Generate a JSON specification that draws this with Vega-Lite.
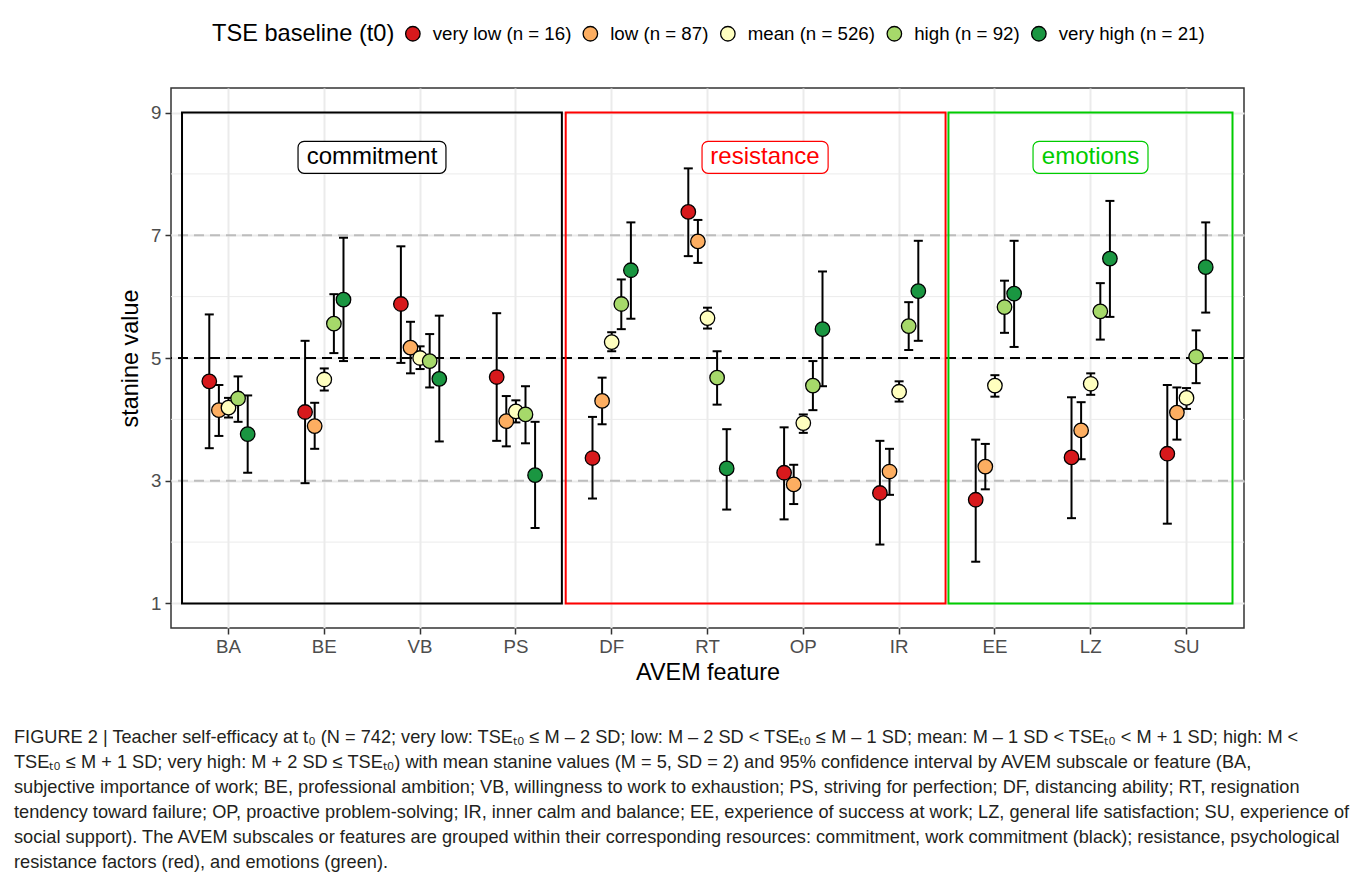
{
  "$schema": "https://vega.github.io/schema/vega-lite/v6.json",
  "width": 1073,
  "height": 540,
  "autosize": {"type": "none"},
  "padding": {"left": 171, "top": 88, "right": 113, "bottom": 249},
  "background": "white",
  "config": {
    "font": "Liberation Sans",
    "view": {"stroke": "#333333", "strokeWidth": 1.5}
  },
  "title": {
    "text": [
      "FIGURE 2 | Teacher self-efficacy at t₀ (N = 742; very low: TSEₜ₀ ≤ M – 2 SD; low: M – 2 SD < TSEₜ₀ ≤ M – 1 SD; mean: M – 1 SD < TSEₜ₀ < M + 1 SD; high: M <",
      "TSEₜ₀ ≤ M + 1 SD; very high: M + 2 SD ≤ TSEₜ₀) with mean stanine values (M = 5, SD = 2) and 95% confidence interval by AVEM subscale or feature (BA,",
      "subjective importance of work; BE, professional ambition; VB, willingness to work to exhaustion; PS, striving for perfection; DF, distancing ability; RT, resignation",
      "tendency toward failure; OP, proactive problem-solving; IR, inner calm and balance; EE, experience of success at work; LZ, general life satisfaction; SU, experience of",
      "social support). The AVEM subscales or features are grouped within their corresponding resources: commitment, work commitment (black); resistance, psychological",
      "resistance factors (red), and emotions (green)."
    ],
    "orient": "bottom",
    "anchor": "start",
    "frame": "group",
    "dx": -157,
    "offset": 45,
    "font": "Liberation Sans",
    "fontSize": 18.2,
    "fontWeight": "normal",
    "color": "#231f20",
    "lineHeight": 25,
    "limit": 0
  },
  "datasets": {
    "stats": [
      {"feature": "BA", "group": "very low (n = 16)", "mean": 4.62, "lower": 3.53, "upper": 5.71},
      {"feature": "BA", "group": "low (n = 87)", "mean": 4.15, "lower": 3.73, "upper": 4.56},
      {"feature": "BA", "group": "mean (n = 526)", "mean": 4.19, "lower": 4.03, "upper": 4.35},
      {"feature": "BA", "group": "high (n = 92)", "mean": 4.34, "lower": 3.96, "upper": 4.70},
      {"feature": "BA", "group": "very high (n = 21)", "mean": 3.76, "lower": 3.13, "upper": 4.39},
      {"feature": "BE", "group": "very low (n = 16)", "mean": 4.12, "lower": 2.96, "upper": 5.28},
      {"feature": "BE", "group": "low (n = 87)", "mean": 3.89, "lower": 3.52, "upper": 4.27},
      {"feature": "BE", "group": "mean (n = 526)", "mean": 4.65, "lower": 4.47, "upper": 4.83},
      {"feature": "BE", "group": "high (n = 92)", "mean": 5.56, "lower": 5.08, "upper": 6.04},
      {"feature": "BE", "group": "very high (n = 21)", "mean": 5.95, "lower": 4.95, "upper": 6.96},
      {"feature": "VB", "group": "very low (n = 16)", "mean": 5.88, "lower": 4.92, "upper": 6.82},
      {"feature": "VB", "group": "low (n = 87)", "mean": 5.17, "lower": 4.75, "upper": 5.59},
      {"feature": "VB", "group": "mean (n = 526)", "mean": 5.00, "lower": 4.82, "upper": 5.19},
      {"feature": "VB", "group": "high (n = 92)", "mean": 4.95, "lower": 4.52, "upper": 5.39},
      {"feature": "VB", "group": "very high (n = 21)", "mean": 4.66, "lower": 3.64, "upper": 5.69},
      {"feature": "PS", "group": "very low (n = 16)", "mean": 4.69, "lower": 3.65, "upper": 5.73},
      {"feature": "PS", "group": "low (n = 87)", "mean": 3.97, "lower": 3.56, "upper": 4.38},
      {"feature": "PS", "group": "mean (n = 526)", "mean": 4.13, "lower": 3.95, "upper": 4.31},
      {"feature": "PS", "group": "high (n = 92)", "mean": 4.08, "lower": 3.61, "upper": 4.54},
      {"feature": "PS", "group": "very high (n = 21)", "mean": 3.09, "lower": 2.23, "upper": 3.96},
      {"feature": "DF", "group": "very low (n = 16)", "mean": 3.37, "lower": 2.71, "upper": 4.04},
      {"feature": "DF", "group": "low (n = 87)", "mean": 4.30, "lower": 3.92, "upper": 4.68},
      {"feature": "DF", "group": "mean (n = 526)", "mean": 5.26, "lower": 5.11, "upper": 5.42},
      {"feature": "DF", "group": "high (n = 92)", "mean": 5.88, "lower": 5.47, "upper": 6.28},
      {"feature": "DF", "group": "very high (n = 21)", "mean": 6.43, "lower": 5.64, "upper": 7.21},
      {"feature": "RT", "group": "very low (n = 16)", "mean": 7.38, "lower": 6.66, "upper": 8.09},
      {"feature": "RT", "group": "low (n = 87)", "mean": 6.90, "lower": 6.55, "upper": 7.25},
      {"feature": "RT", "group": "mean (n = 526)", "mean": 5.65, "lower": 5.48, "upper": 5.82},
      {"feature": "RT", "group": "high (n = 92)", "mean": 4.68, "lower": 4.24, "upper": 5.11},
      {"feature": "RT", "group": "very high (n = 21)", "mean": 3.20, "lower": 2.53, "upper": 3.84},
      {"feature": "OP", "group": "very low (n = 16)", "mean": 3.13, "lower": 2.37, "upper": 3.87},
      {"feature": "OP", "group": "low (n = 87)", "mean": 2.94, "lower": 2.62, "upper": 3.26},
      {"feature": "OP", "group": "mean (n = 526)", "mean": 3.94, "lower": 3.78, "upper": 4.08},
      {"feature": "OP", "group": "high (n = 92)", "mean": 4.55, "lower": 4.15, "upper": 4.95},
      {"feature": "OP", "group": "very high (n = 21)", "mean": 5.47, "lower": 4.54, "upper": 6.41},
      {"feature": "IR", "group": "very low (n = 16)", "mean": 2.80, "lower": 1.96, "upper": 3.65},
      {"feature": "IR", "group": "low (n = 87)", "mean": 3.15, "lower": 2.77, "upper": 3.52},
      {"feature": "IR", "group": "mean (n = 526)", "mean": 4.45, "lower": 4.29, "upper": 4.62},
      {"feature": "IR", "group": "high (n = 92)", "mean": 5.52, "lower": 5.13, "upper": 5.91},
      {"feature": "IR", "group": "very high (n = 21)", "mean": 6.09, "lower": 5.28, "upper": 6.91},
      {"feature": "EE", "group": "very low (n = 16)", "mean": 2.69, "lower": 1.68, "upper": 3.67},
      {"feature": "EE", "group": "low (n = 87)", "mean": 3.23, "lower": 2.86, "upper": 3.60},
      {"feature": "EE", "group": "mean (n = 526)", "mean": 4.55, "lower": 4.37, "upper": 4.72},
      {"feature": "EE", "group": "high (n = 92)", "mean": 5.83, "lower": 5.41, "upper": 6.26},
      {"feature": "EE", "group": "very high (n = 21)", "mean": 6.05, "lower": 5.18, "upper": 6.91},
      {"feature": "LZ", "group": "very low (n = 16)", "mean": 3.38, "lower": 2.39, "upper": 4.36},
      {"feature": "LZ", "group": "low (n = 87)", "mean": 3.82, "lower": 3.35, "upper": 4.28},
      {"feature": "LZ", "group": "mean (n = 526)", "mean": 4.58, "lower": 4.40, "upper": 4.75},
      {"feature": "LZ", "group": "high (n = 92)", "mean": 5.76, "lower": 5.30, "upper": 6.22},
      {"feature": "LZ", "group": "very high (n = 21)", "mean": 6.62, "lower": 5.67, "upper": 7.56},
      {"feature": "SU", "group": "very low (n = 16)", "mean": 3.44, "lower": 2.30, "upper": 4.56},
      {"feature": "SU", "group": "low (n = 87)", "mean": 4.11, "lower": 3.67, "upper": 4.52},
      {"feature": "SU", "group": "mean (n = 526)", "mean": 4.35, "lower": 4.17, "upper": 4.51},
      {"feature": "SU", "group": "high (n = 92)", "mean": 5.02, "lower": 4.59, "upper": 5.45},
      {"feature": "SU", "group": "very high (n = 21)", "mean": 6.48, "lower": 5.74, "upper": 7.21}
    ],
    "boxes": [
      {"resource": "commitment", "xmin": 0.515, "xmax": 4.48, "ymin": 1, "ymax": 9},
      {"resource": "resistance", "xmin": 4.52, "xmax": 8.485, "ymin": 1, "ymax": 9},
      {"resource": "emotions", "xmin": 8.515, "xmax": 11.48, "ymin": 1, "ymax": 9}
    ],
    "labels": [
      {"resource": "commitment", "xmin": 1.726, "xmax": 3.27, "ymin": 8.01, "ymax": 8.53, "xc": 2.498, "yc": 8.27},
      {"resource": "resistance", "xmin": 5.943, "xmax": 7.259, "ymin": 8.01, "ymax": 8.53, "xc": 6.6, "yc": 8.27},
      {"resource": "emotions", "xmin": 9.398, "xmax": 10.598, "ymin": 8.01, "ymax": 8.53, "xc": 9.998, "yc": 8.27}
    ],
    "minorgrid": [{"v": 2}, {"v": 4}, {"v": 6}, {"v": 8}]
  },
  "layer": [
    {
      "data": {"name": "minorgrid"},
      "mark": {"type": "rule", "color": "#ebebeb", "strokeWidth": 1},
      "encoding": {"y": {"field": "v", "type": "quantitative", "scale": {"domain": [0.6, 9.4], "nice": false, "zero": false}, "axis": null}}
    },
    {
      "data": {"values": [{}]},
      "mark": {"type": "rule", "color": "#bdbdbd", "strokeWidth": 2, "strokeDash": [10, 6]},
      "encoding": {"y": {"datum": 3, "type": "quantitative", "scale": {"domain": [0.6, 9.4], "nice": false, "zero": false}, "axis": null}}
    },
    {
      "data": {"values": [{}]},
      "mark": {"type": "rule", "color": "#bdbdbd", "strokeWidth": 2, "strokeDash": [10, 6]},
      "encoding": {"y": {"datum": 7, "type": "quantitative", "scale": {"domain": [0.6, 9.4], "nice": false, "zero": false}, "axis": null}}
    },
    {
      "data": {"values": [{}]},
      "mark": {"type": "rule", "color": "black", "strokeWidth": 2.2, "strokeDash": [10, 6]},
      "encoding": {"y": {"datum": 5, "type": "quantitative", "scale": {"domain": [0.6, 9.4], "nice": false, "zero": false}, "axis": null}}
    },
    {
      "data": {"name": "boxes"},
      "mark": {"type": "rect", "fillOpacity": 0, "strokeWidth": 2},
      "encoding": {
        "x": {"field": "xmin", "type": "quantitative", "scale": {"domain": [0.4, 11.6], "nice": false, "zero": false}, "axis": null},
        "x2": {"field": "xmax"},
        "y": {"field": "ymin", "type": "quantitative", "scale": {"domain": [0.6, 9.4], "nice": false, "zero": false}, "axis": null},
        "y2": {"field": "ymax"},
        "stroke": {"field": "resource", "type": "nominal", "scale": {"domain": ["commitment", "resistance", "emotions"], "range": ["#000000", "#ff0000", "#00cc00"]}, "legend": null}
      }
    },
    {
      "data": {"name": "labels"},
      "mark": {"type": "rect", "fill": "white", "strokeWidth": 1.2, "cornerRadius": 6},
      "encoding": {
        "x": {"field": "xmin", "type": "quantitative", "scale": {"domain": [0.4, 11.6], "nice": false, "zero": false}, "axis": null},
        "x2": {"field": "xmax"},
        "y": {"field": "ymin", "type": "quantitative", "scale": {"domain": [0.6, 9.4], "nice": false, "zero": false}, "axis": null},
        "y2": {"field": "ymax"},
        "stroke": {"field": "resource", "type": "nominal", "scale": {"domain": ["commitment", "resistance", "emotions"], "range": ["#000000", "#ff0000", "#00cc00"]}, "legend": null}
      }
    },
    {
      "data": {"name": "labels"},
      "mark": {"type": "text", "fontSize": 24, "font": "Liberation Sans", "align": "center", "baseline": "middle"},
      "encoding": {
        "x": {"field": "xc", "type": "quantitative", "scale": {"domain": [0.4, 11.6], "nice": false, "zero": false}, "axis": null},
        "y": {"field": "yc", "type": "quantitative", "scale": {"domain": [0.6, 9.4], "nice": false, "zero": false}, "axis": null},
        "text": {"field": "resource"},
        "color": {"field": "resource", "type": "nominal", "scale": {"domain": ["commitment", "resistance", "emotions"], "range": ["#000000", "#ff0000", "#00cc00"]}, "legend": null}
      }
    },
    {
      "data": {"name": "stats"},
      "mark": {"type": "rule", "color": "black", "strokeWidth": 2},
      "encoding": {
        "x": {"field": "feature", "type": "nominal", "sort": ["BA", "BE", "VB", "PS", "DF", "RT", "OP", "IR", "EE", "LZ", "SU"], "scale": {"type": "band", "paddingInner": 0, "paddingOuter": 0.1}, "axis": null},
        "xOffset": {"field": "group", "type": "nominal", "sort": ["very low (n = 16)", "low (n = 87)", "mean (n = 526)", "high (n = 92)", "very high (n = 21)"], "scale": {"range": [23.9, 71.9]}},
        "y": {"field": "lower", "type": "quantitative", "scale": {"domain": [0.6, 9.4], "nice": false, "zero": false}, "axis": null},
        "y2": {"field": "upper"}
      }
    },
    {
      "data": {"name": "stats"},
      "mark": {"type": "tick", "color": "black", "size": 9, "thickness": 2, "opacity": 1},
      "encoding": {
        "x": {"field": "feature", "type": "nominal", "sort": ["BA", "BE", "VB", "PS", "DF", "RT", "OP", "IR", "EE", "LZ", "SU"], "scale": {"type": "band", "paddingInner": 0, "paddingOuter": 0.1}, "axis": null},
        "xOffset": {"field": "group", "type": "nominal", "sort": ["very low (n = 16)", "low (n = 87)", "mean (n = 526)", "high (n = 92)", "very high (n = 21)"], "scale": {"range": [23.9, 71.9]}},
        "y": {"field": "lower", "type": "quantitative", "scale": {"domain": [0.6, 9.4], "nice": false, "zero": false}, "axis": null}
      }
    },
    {
      "data": {"name": "stats"},
      "mark": {"type": "tick", "color": "black", "size": 9, "thickness": 2, "opacity": 1},
      "encoding": {
        "x": {"field": "feature", "type": "nominal", "sort": ["BA", "BE", "VB", "PS", "DF", "RT", "OP", "IR", "EE", "LZ", "SU"], "scale": {"type": "band", "paddingInner": 0, "paddingOuter": 0.1}, "axis": null},
        "xOffset": {"field": "group", "type": "nominal", "sort": ["very low (n = 16)", "low (n = 87)", "mean (n = 526)", "high (n = 92)", "very high (n = 21)"], "scale": {"range": [23.9, 71.9]}},
        "y": {"field": "upper", "type": "quantitative", "scale": {"domain": [0.6, 9.4], "nice": false, "zero": false}, "axis": null}
      }
    },
    {
      "data": {"name": "stats"},
      "mark": {"type": "circle", "size": 210, "stroke": "black", "strokeWidth": 1.3, "opacity": 1},
      "encoding": {
        "x": {
          "field": "feature", "type": "nominal",
          "sort": ["BA", "BE", "VB", "PS", "DF", "RT", "OP", "IR", "EE", "LZ", "SU"],
          "scale": {"type": "band", "paddingInner": 0, "paddingOuter": 0.1},
          "axis": {
            "title": "AVEM feature", "titleFontSize": 23.4, "titleFontWeight": "normal", "titleColor": "black", "titlePadding": 6,
            "labelFontSize": 18.7, "labelColor": "#4d4d4d", "labelPadding": 3, "labelAngle": 0,
            "tickSize": 6, "tickColor": "#333333", "tickWidth": 1.5, "domain": false,
            "grid": true, "gridColor": "#ebebeb", "gridWidth": 2
          }
        },
        "xOffset": {"field": "group", "type": "nominal", "sort": ["very low (n = 16)", "low (n = 87)", "mean (n = 526)", "high (n = 92)", "very high (n = 21)"], "scale": {"range": [23.9, 71.9]}},
        "y": {
          "field": "mean", "type": "quantitative",
          "scale": {"domain": [0.6, 9.4], "nice": false, "zero": false},
          "axis": {
            "title": "stanine value", "titleFontSize": 23.4, "titleFontWeight": "normal", "titleColor": "black", "titlePadding": 8,
            "values": [1, 3, 5, 7, 9],
            "labelFontSize": 18.7, "labelColor": "#4d4d4d", "labelPadding": 4,
            "tickSize": 6, "tickWidth": 1.5, "tickColor": "#333333",
            "domain": false, "grid": true, "gridColor": "#ebebeb", "gridWidth": 2
          }
        },
        "fill": {
          "field": "group", "type": "nominal",
          "sort": ["very low (n = 16)", "low (n = 87)", "mean (n = 526)", "high (n = 92)", "very high (n = 21)"],
          "scale": {"domain": ["very low (n = 16)", "low (n = 87)", "mean (n = 526)", "high (n = 92)", "very high (n = 21)"], "range": ["#d7191c", "#fdae61", "#ffffbf", "#a6d96a", "#1a9641"]},
          "legend": {
            "title": "TSE baseline (t0)", "orient": "none", "legendX": 41, "legendY": -64,
            "direction": "horizontal", "columns": 5, "titleOrient": "left", "titleLimit": 500,
            "titleFontSize": 23.6, "titleFontWeight": "normal", "titleColor": "black", "titlePadding": 8.5,
            "labelFontSize": 18.7, "labelColor": "black", "labelOffset": 10.5, "columnPadding": 8.5, "labelLimit": 400,
            "symbolType": "circle", "symbolSize": 210, "symbolStrokeColor": "black", "symbolStrokeWidth": 1.3, "symbolOpacity": 1,
            "padding": 0
          }
        }
      }
    }
  ],
  "resolve": {"scale": {"x": "independent"}, "axis": {"y": "independent"}}
}
